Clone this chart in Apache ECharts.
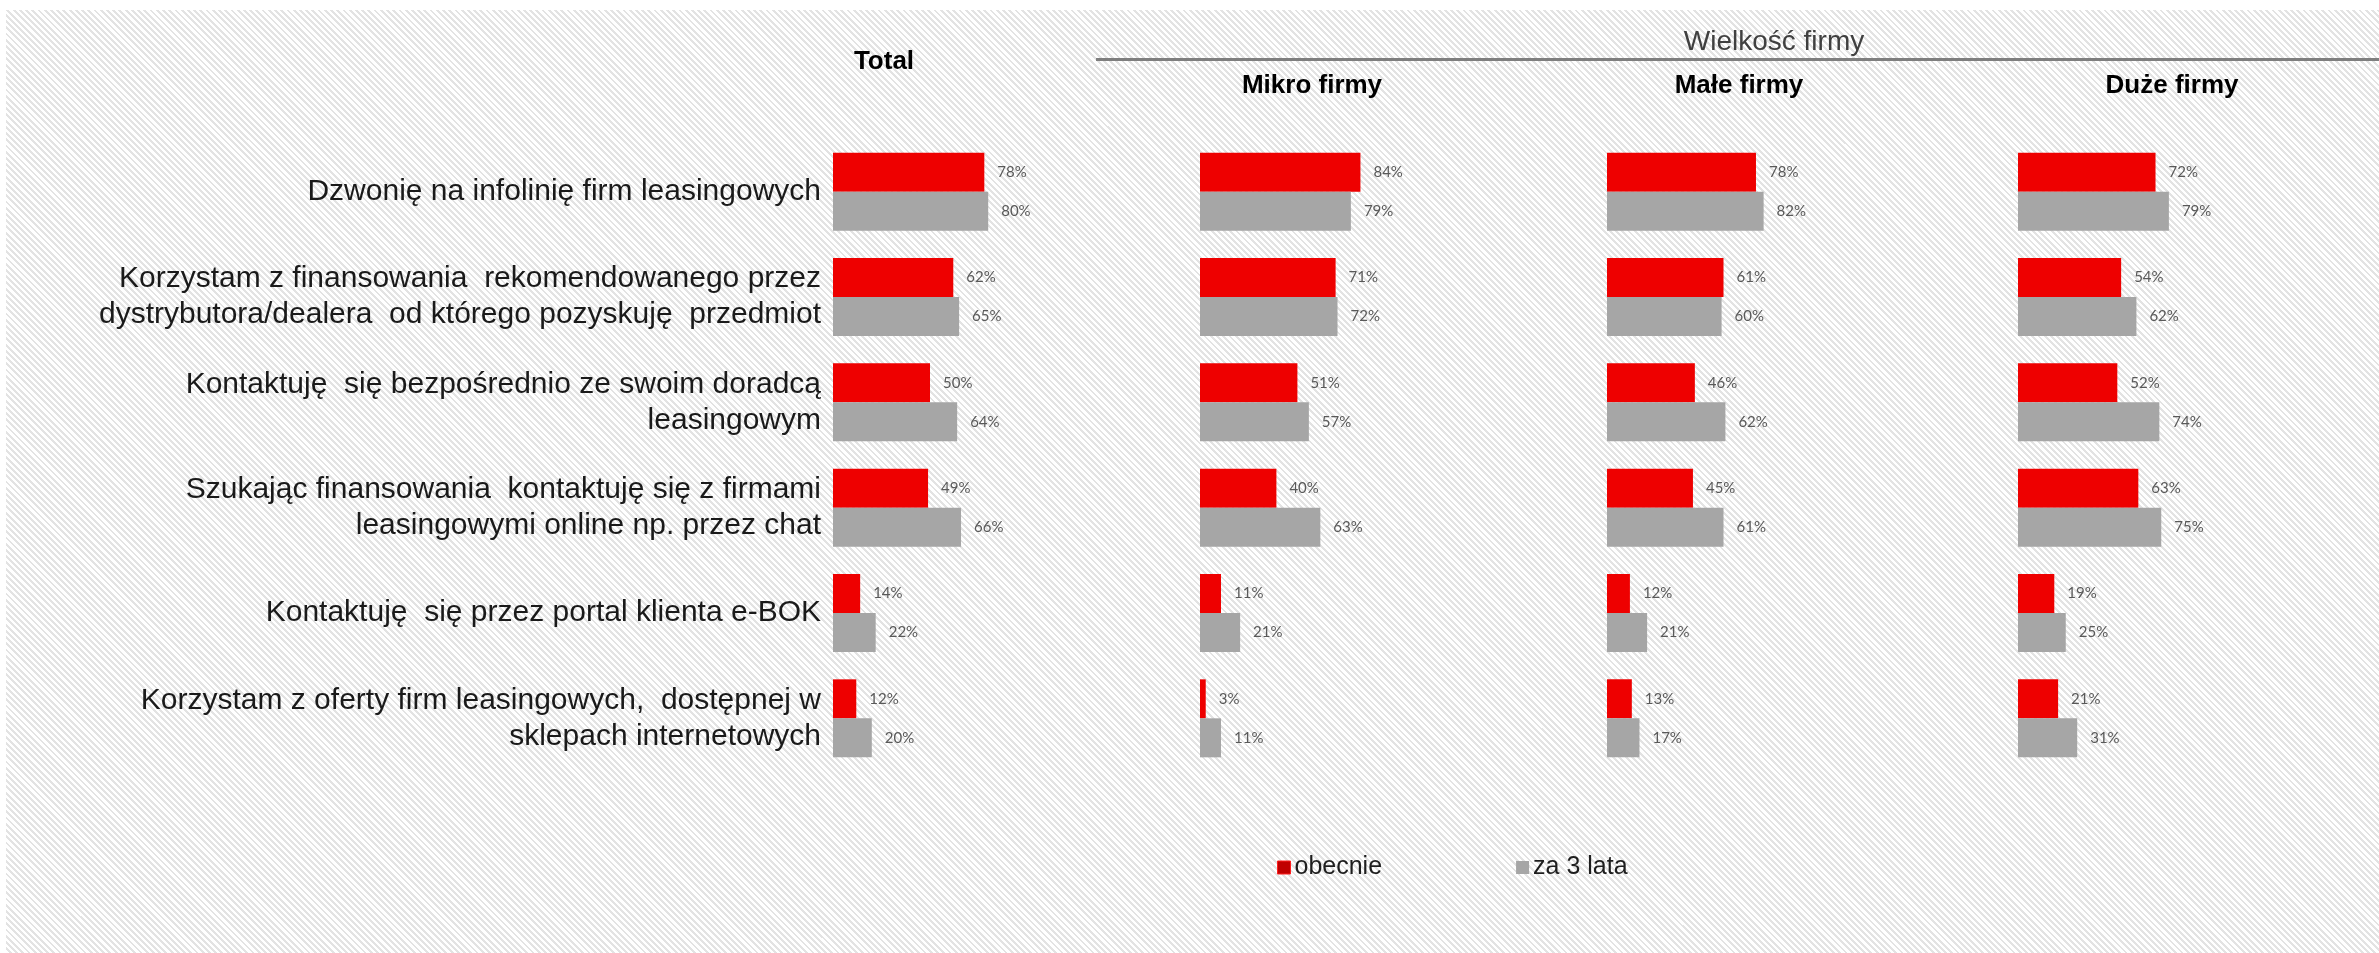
<!DOCTYPE html>
<html><head><meta charset="utf-8">
<script src="https://cdn.jsdelivr.net/npm/echarts@6/dist/echarts.min.js"></script>
<style>
html,body{margin:0;padding:0;}
body{width:2379px;height:953px;background:#fff;overflow:hidden;position:relative;}
#bg{position:absolute;left:6px;top:10px;width:2373px;height:943px;background:repeating-linear-gradient(45deg,#ffffff 0px,#ffffff 2.4px,#e3e3e3 2.4px,#e3e3e3 4.4px);}
#chart{position:absolute;left:0;top:0;width:2379px;height:953px;}
</style></head>
<body>
<div id="bg"></div>
<div id="chart"></div>
<script>
const categories = [
  'Dzwonię na infolinię firm leasingowych',
  'Korzystam z finansowania  rekomendowanego przez\ndystrybutora/dealera  od którego pozyskuję  przedmiot',
  'Kontaktuję  się bezpośrednio ze swoim doradcą\nleasingowym',
  'Szukając finansowania  kontaktuję się z firmami\nleasingowymi online np. przez chat',
  'Kontaktuję  się przez portal klienta e-BOK',
  'Korzystam z oferty firm leasingowych,  dostępnej w\nsklepach internetowych'
];
const panelTitles = ['Total', 'Mikro firmy', 'Małe firmy', 'Duże firmy'];
const groupTitle = 'Wielkość firmy';
const seriesNames = ['obecnie', 'za 3 lata'];

const totalNow = [78, 62, 50, 49, 14, 12];
const totalFuture = [80, 65, 64, 66, 22, 20];
const mikroNow = [84, 71, 51, 40, 11, 3];
const mikroFuture = [79, 72, 57, 63, 21, 11];
const maleNow = [78, 61, 46, 45, 12, 13];
const maleFuture = [82, 60, 62, 61, 21, 17];
const duzeNow = [72, 54, 52, 63, 19, 21];
const duzeFuture = [79, 62, 74, 75, 25, 31];

const panels = [
  {now: totalNow, fut: totalFuture, left: 833, width: 194, cx: 884},
  {now: mikroNow, fut: mikroFuture, left: 1200, width: 191, cx: 1312},
  {now: maleNow, fut: maleFuture, left: 1607, width: 191, cx: 1739},
  {now: duzeNow, fut: duzeFuture, left: 2018, width: 191, cx: 2172}
];

const RED = '#EE0000', GRAY = '#A6A6A6';
const labelStyle = {show: true, position: 'right', distance: 13, formatter: '{c}%',
  color: '#595959', fontSize: 15, fontFamily: 'Lato, "Open Sans", sans-serif'};

const grid = [], xAxis = [], yAxis = [], series = [];
panels.forEach((p, i) => {
  grid.push({left: p.left, width: p.width, top: 139, height: 632, containLabel: false});
  xAxis.push({type: 'value', gridIndex: i, min: 0, max: 100, show: false});
  yAxis.push({type: 'category', gridIndex: i, data: categories, inverse: true,
    axisLine: {show: false}, axisTick: {show: false}, splitLine: {show: false},
    axisLabel: i === 0 ? {show: true, margin: 12, fontSize: 30, lineHeight: 36,
      color: '#1a1a1a', fontFamily: '"Liberation Sans", Arial, sans-serif', align: 'right'} : {show: false}});
  series.push({name: seriesNames[0], type: 'bar', xAxisIndex: i, yAxisIndex: i, data: p.now,
    barWidth: 39, barGap: '0%', itemStyle: {color: RED}, label: labelStyle, animation: false});
  series.push({name: seriesNames[1], type: 'bar', xAxisIndex: i, yAxisIndex: i, data: p.fut,
    barWidth: 39, barGap: '0%', itemStyle: {color: GRAY}, label: labelStyle, animation: false});
});

const graphics = [
  {type: 'line', shape: {x1: 1096, y1: 59.5, x2: 2379, y2: 59.5}, style: {stroke: '#7F7F7F', lineWidth: 3}},
  {type: 'text', x: 1774, y: 42, style: {text: groupTitle, textAlign: 'center', textVerticalAlign: 'middle',
    font: '28px "Liberation Sans", Arial, sans-serif', fill: '#404040'}}
];
panels.forEach((p, i) => {
  graphics.push({type: 'text', x: p.cx, y: i === 0 ? 62 : 86, style: {text: panelTitles[i], textAlign: 'center',
    textVerticalAlign: 'middle', font: 'bold 26px "Liberation Sans", Arial, sans-serif', fill: '#000'}});
});

const chart = echarts.init(document.getElementById('chart'), null, {renderer: 'canvas'});
chart.setOption({
  backgroundColor: 'transparent',
  animation: false,
  grid, xAxis, yAxis, series,
  legend: {
    data: [{name: 'obecnie', itemStyle: {color: '#C00000', borderColor: '#FF2020', borderWidth: 1}},
           {name: 'za 3 lata', itemStyle: {color: GRAY}}],
    left: 1272, top: 850, icon: 'rect', itemWidth: 13, itemHeight: 13, itemGap: 134,
    textStyle: {fontSize: 25, color: '#1e1e1e', fontFamily: '"Liberation Sans", Arial, sans-serif', padding: [0, 0, 0, -1]}
  },
  graphic: graphics
});
</script>
</body></html>
